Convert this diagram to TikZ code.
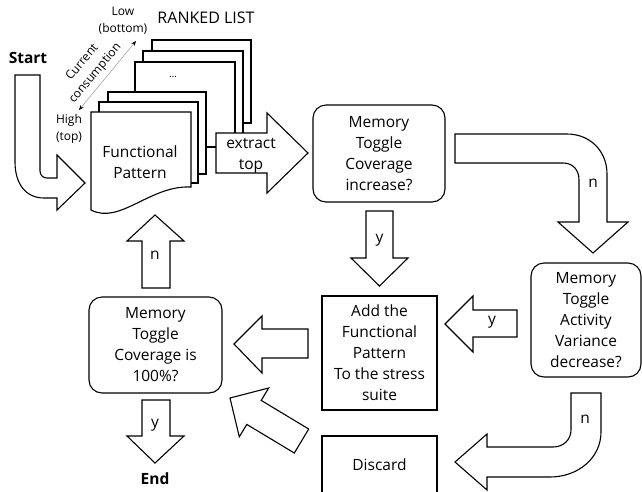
\documentclass[tikz,border=0pt]{standalone}
\usepackage{fontspec}
\setmainfont{Open Sans}
\usetikzlibrary{arrows.meta}
\newcommand\myMainFs{\fontsize{15.5}{21}\selectfont}
\newcommand\mySmallFs{\fontsize{12}{17}\selectfont}
\begin{document}
\begin{tikzpicture}[x=1pt,y=-1pt,
  base/.style={line width=1.1pt, draw=black, fill=white},
  rbox/.style={base, rounded corners=13pt, inner sep=0pt, align=center, font=\myMainFs},
  sbox/.style={base, inner sep=0pt, align=center, font=\myMainFs},
  blk/.style={base, line join=miter},
  lab/.style={inner sep=0pt, align=center, font=\myMainFs},
  small/.style={inner sep=0pt, align=center, font=\mySmallFs},
  pagebox/.style={base}]
\useasboundingbox (0,0) rectangle (642,491);
\clip (0,0) rectangle (642,491);

% titles
\node[lab, font=\bfseries\myMainFs] (start) at (28,58) {Start};
\node[lab, font=\fontsize{16}{20}\selectfont] (ranked) at (206,18) {RANKED LIST};

% current consumption scale
\coordinate (hiend) at (79,110);
\coordinate (loend) at (136,41);
\draw[gray!70, line width=0.6pt, {Stealth[length=5pt,width=4pt,color=black]}-{Stealth[length=5pt,width=4pt,color=black]}] (hiend) -- (loend);
\node[small, rotate=50] (curcons) at (89,68) {Current\\consumption};
\node[small] (low) at (123,21) {Low\\(bottom)};
\node[small] (high) at (69,128.5) {High\\(top)};

% stack of pages (back to front)
\draw[pagebox] (152,40) rectangle (251,123);
\draw[pagebox] (143,51) rectangle (243,136);
\draw[pagebox] (135,62) rectangle (235,147);
\node[inner sep=0pt, font=\fontsize{10}{12}\selectfont] (dots) at (173,77) {…};
\draw[pagebox] (108,92) rectangle (206,174);
\draw[pagebox] (99,102) rectangle (198,183);
\draw[pagebox] (191,187) -- (191,112) -- (91,112) -- (91,210)
  .. controls (120,225) and (150,185) .. (191,187) -- cycle;
\node[lab] (fpat) at (140,162.5) {Functional\\Pattern};

% Start bent arrow
\draw[blk] (40,75) -- (15,75) -- (15,162) .. controls (15,184) and (26,198) .. (44,198)
  -- (57,198) -- (57,210) -- (85,183) -- (57,155) -- (57,178) -- (47,178)
  .. controls (43,178) and (40,175) .. (40,171) -- cycle;

% extract arrow
\draw[blk] (216,133) -- (267,133) -- (267,113) -- (308,153) -- (267,193) -- (267,173) -- (216,173) -- cycle;
\node[lab] (extract) at (251,155.5) {extract\\top};

% boxes
\node[rbox, minimum width=132pt, minimum height=97pt] (cinc) at (379,153.5) {Memory\\Toggle\\Coverage\\increase?};
\node[sbox, minimum width=115pt, minimum height=114pt] (add) at (379.5,353) {Add the\\Functional\\Pattern\\To the stress\\suite};
\node[rbox, minimum width=110pt, minimum height=114pt] (avar) at (586,320) {Memory\\Toggle\\Activity\\Variance\\decrease?};
\node[rbox, minimum width=133pt, minimum height=96pt] (cfull) at (155.5,345) {Memory\\Toggle\\Coverage is\\100\%?};
\draw[base] (322,436) rectangle (437,520);
\node[lab] (discard) at (379.5,465) {Discard};
\node[lab, font=\bfseries\myMainFs] (endt) at (155,479) {End};

% cinc -> avar (n), bent
\draw[blk] (455,134) -- (567,134) .. controls (590,134) and (607,151) .. (607,174)
  -- (607,222) -- (628,222) -- (593,253) -- (558,222) -- (579,222) -- (579,180)
  .. controls (579,170) and (573,163) .. (563,163) -- (455,163) -- cycle;
\node[lab] (n1) at (593,183) {n};

% cinc -> add (y)
\draw[blk] (366,211) -- (393,211) -- (393,258) -- (408,258) -- (379.5,286) -- (351,258) -- (366,258) -- cycle;
\node[lab] (y1) at (379.5,240) {y};

% avar -> add (y)
\draw[blk] (517,310) -- (473,310) -- (473,296) -- (445,324) -- (473,352) -- (473,337) -- (517,337) -- cycle;
\node[lab] (y2) at (492,322) {y};

% avar -> discard (n), bent
\draw[blk] (571,393) -- (601,393) -- (601,432) .. controls (601,458) and (578,477) .. (550,477)
  -- (487,477) -- (487,490) -- (455,462) -- (487,434) -- (487,447) -- (553,447)
  .. controls (563,447) and (571,440) .. (571,430) -- cycle;
\node[lab] (n2) at (585,419) {n};

% add -> cfull
\draw[blk] (308,329) -- (262,329) -- (262,316) -- (234,344) -- (262,373) -- (262,358) -- (308,358) -- cycle;

% discard -> cfull (diagonal)
\draw[blk] (308.7,429.0) -- (261.2,400.4) -- (268.7,388.0) -- (230,398) -- (239.3,436.8) -- (246.8,424.4) -- (294.3,453.0) -- cycle;

% cfull -> page (n)
\draw[blk] (142,288) -- (142,241) -- (127,241) -- (155,215) -- (184,241) -- (170,241) -- (170,288) -- cycle;
\node[lab] (n3) at (155,255) {n};

% cfull -> end (y)
\draw[blk] (142,400) -- (170,400) -- (170,436) -- (184,436) -- (155,463) -- (127,436) -- (142,436) -- cycle;
\node[lab] (y3) at (155,425) {y};
\end{tikzpicture}
\end{document}
